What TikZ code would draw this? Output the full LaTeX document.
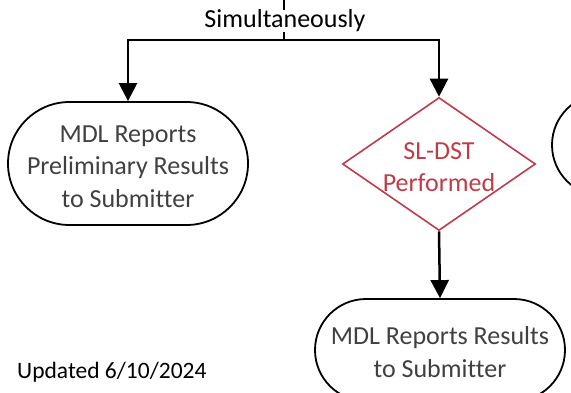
\documentclass[tikz,border=0pt]{standalone}
\usepackage{fontspec}
\setmainfont{Carlito}[Ligatures=NoCommon]
\usetikzlibrary{shapes.geometric,shapes.misc,arrows.meta}
\definecolor{txtgray}{RGB}{64,64,64}
\definecolor{dstred}{RGB}{190,60,72}
\begin{document}
\begin{tikzpicture}[x=1pt,y=-1pt,
  bigfont/.style={font=\fontsize{26}{32.5}\selectfont},
  term/.style={rounded rectangle, draw=black, line width=1.8pt, inner sep=0pt},
  termtext/.style={text=txtgray, bigfont, align=center, inner sep=0pt},
  conn/.style={draw=black, line width=2.5pt, -{Triangle[width=18pt,length=18pt]}},
  plain/.style={draw=black, line width=2.5pt}]
\useasboundingbox (0,0) rectangle (571,392);
\clip (0,0) rectangle (571,392);
\node[term, minimum width=240pt, minimum height=123pt] (prelim) at (128,163.5) {};
\node[termtext] (prelimtext) at ([yshift=-3pt]prelim.center)
  {MDL Reports\\Preliminary Results\\to Submitter};
\node[diamond, draw=dstred, line width=1.6pt, minimum width=193pt,
  minimum height=133pt, inner sep=0pt] (dst) at (439,164) {};
\node[text=dstred, bigfont, align=center, inner sep=0pt] (dsttext)
  at ([yshift=-3pt]dst.center) {SL-DST\\Performed};
\node[term, minimum width=250pt, minimum height=102pt] (final) at (440,350) {};
\node[termtext] (finaltext) at ([yshift=-2pt]final.center)
  {MDL Reports Results\\to Submitter};
\node[term, minimum width=240pt, minimum height=102pt] (other) at (672,145) {};
\coordinate (in) at (284,0);
\coordinate (split) at (284,40);
\draw[plain] (in) -- (split);
\node[fill=white, inner sep=0pt, bigfont] (simul) at (285,21) {Simultaneously};
\draw[conn] (split) -| (prelim.north);
\draw[conn] (split) -| (dst.north);
\draw[conn] (dst.south) -- (final.north);
\node[anchor=west, inner sep=0pt, font=\fontsize{23.5}{28}\selectfont] (upd)
  at (17,372) {Updated 6/10/2024};
\end{tikzpicture}
\end{document}
